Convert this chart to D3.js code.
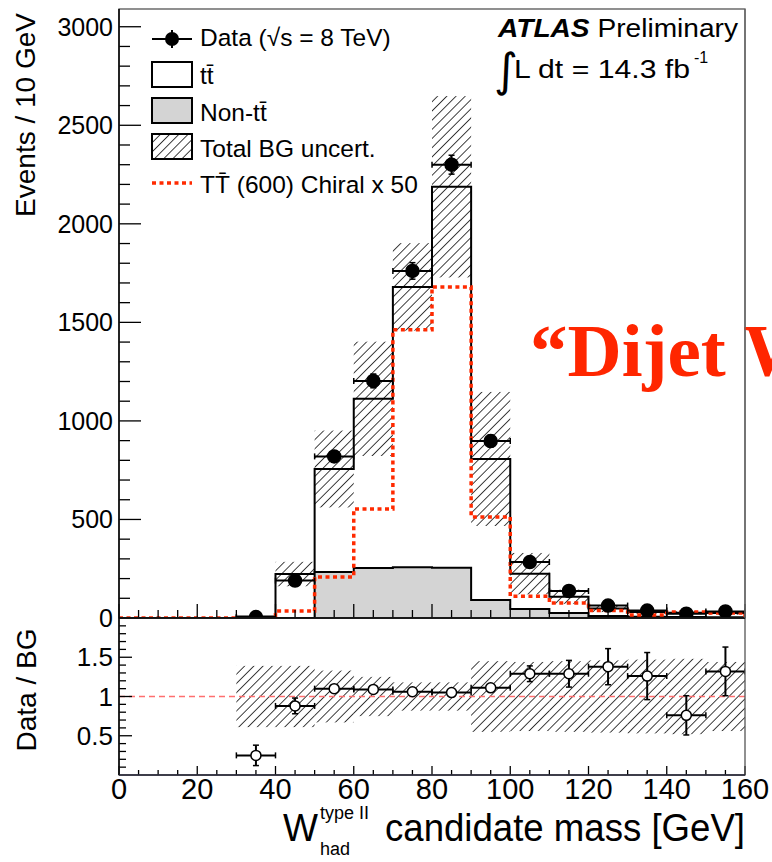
<!DOCTYPE html>
<html>
<head>
<meta charset="utf-8">
<script src="https://cdn.jsdelivr.net/npm/d3@7/dist/d3.min.js"></script>
<style>
  body { margin: 0; background: #fff; }
  svg text { font-family: "Liberation Sans", Arial, Helvetica, sans-serif; fill: #000; }
</style>
</head>
<body>
<div id="chart"></div>
<script>
// bins of 10 GeV
var binLow   = [0, 10, 20, 30, 40, 50, 60, 70, 80, 90, 100, 110, 120, 130, 140, 150];
var totalBG  = [0, 0, 0, 7, 223, 756, 1112, 1680, 2188, 807, 225, 108, 48, 30, 27, 25];
var nonTT    = [0, 0, 0, 0, 0, 233, 254, 258, 255, 91, 46, 25, 10, 6, 5, 4];
var bgUnc    = [0, 0, 0, 3, 62, 195, 290, 222, 460, 340, 105, 36, 18, 10, 8, 8];
var signal   = [0, 0, 0, 0, 35, 208, 553, 1462, 1680, 513, 110, 76, 38, 15, 30, 26];
var ratioBand = [0, 0, 0, 0.39, 0.39, 0.33, 0.25, 0.18, 0.18, 0.45, 0.44, 0.45, 0.46, 0.47, 0.48, 0.44];

// data points
var dataX    = [35, 45, 55, 65, 75, 85, 95, 105, 115, 125, 135, 145, 155];
var dataY    = [5, 190, 820, 1203, 1761, 2300, 898, 284, 137, 63, 38, 22, 33];
var dataErr  = [2, 14, 29, 35, 42, 48, 30, 17, 12, 8, 6, 5, 6];
var ratioY   = [0.25, 0.88, 1.10, 1.09, 1.06, 1.05, 1.11, 1.29, 1.29, 1.38, 1.26, 0.76, 1.32];
var ratioErr = [0.13, 0.10, 0.03, 0.03, 0.03, 0.02, 0.04, 0.10, 0.17, 0.23, 0.30, 0.25, 0.31];

var xTicks = [0, 20, 40, 60, 80, 100, 120, 140, 160];
var yTicks = [0, 500, 1000, 1500, 2000, 2500, 3000];
var rTicks = [0.5, 1, 1.5];

var binW = 10;
var W = 772, H = 862;
var padL = 119, padR = 745, padT = 9, padMid = 618, padB = 775;

var bins = binLow.map(function(lo, i) {
  return { lo: lo, bg: totalBG[i], unc: bgUnc[i], rel: ratioBand[i] };
});

var svg = d3.select("#chart").append("svg").attr("width", W).attr("height", H);

var x = d3.scaleLinear().domain([0, 160]).range([padL, padR]);
var y = d3.scaleLinear().domain([0, 3090]).range([padMid, padT]);
var yr = d3.scaleLinear().domain([0, 2.0]).range([padB, padMid]);

var defs = svg.append("defs");
defs.append("pattern").attr("id", "hatch")
    .attr("patternUnits", "userSpaceOnUse")
    .attr("width", 6.5).attr("height", 6.5)
    .attr("patternTransform", "rotate(45)")
  .append("line")
    .attr("x1", 0).attr("y1", -1).attr("x2", 0).attr("y2", 8)
    .attr("stroke", "#000").attr("stroke-width", 1.5);
defs.append("clipPath").attr("id", "clipMain")
  .append("rect").attr("x", padL).attr("y", padT).attr("width", padR - padL).attr("height", padMid - padT);
defs.append("clipPath").attr("id", "clipRatio")
  .append("rect").attr("x", padL).attr("y", padMid).attr("width", padR - padL).attr("height", padB - padMid);

function stepPath(vals, ys) {
  var p = "M" + x(binLow[0]) + "," + ys(0);
  vals.forEach(function(v, i) {
    p += "V" + ys(v) + "H" + x(binLow[i] + binW);
  });
  return p + "V" + ys(0);
}

// ---------- main panel ----------
var gMain = svg.append("g").attr("clip-path", "url(#clipMain)");

gMain.append("path").attr("d", stepPath(totalBG, y))
    .attr("fill", "#fff").attr("stroke", "#000").attr("stroke-width", 2);
gMain.append("path").attr("d", stepPath(nonTT, y))
    .attr("fill", "#d4d4d4").attr("stroke", "#000").attr("stroke-width", 2);

gMain.selectAll("rect.unc").data(bins.filter(function(b) { return b.unc > 0; }))
  .enter().append("rect")
    .attr("class", "unc")
    .attr("x", function(d) { return x(d.lo); })
    .attr("width", x(binW) - x(0))
    .attr("y", function(d) { return y(d.bg + d.unc); })
    .attr("height", function(d) { return y(d.bg - d.unc) - y(d.bg + d.unc); })
    .attr("fill", "url(#hatch)");

gMain.append("path").attr("d", stepPath(signal, y))
    .attr("fill", "none").attr("stroke", "#ff2a00").attr("stroke-width", 3.5)
    .attr("stroke-dasharray", "4,3.5");

function drawPoints(g, ys, vals, errs, r, filled) {
  var pts = g.selectAll("g.pt").data(dataX).enter().append("g").attr("class", "pt");
  pts.append("line")
      .attr("x1", function(d) { return x(d - binW / 2); })
      .attr("x2", function(d) { return x(d + binW / 2); })
      .attr("y1", function(d, i) { return ys(vals[i]); })
      .attr("y2", function(d, i) { return ys(vals[i]); })
      .attr("stroke", "#000").attr("stroke-width", 2);
  [-1, 1].forEach(function(s) {
    pts.append("line")
        .attr("x1", function(d) { return x(d + s * binW / 2); })
        .attr("x2", function(d) { return x(d + s * binW / 2); })
        .attr("y1", function(d, i) { return ys(vals[i]) - 3; })
        .attr("y2", function(d, i) { return ys(vals[i]) + 3; })
        .attr("stroke", "#000").attr("stroke-width", 1.5);
    pts.append("line")
        .attr("x1", function(d) { return x(d) - 3; })
        .attr("x2", function(d) { return x(d) + 3; })
        .attr("y1", function(d, i) { return ys(vals[i] + s * errs[i]); })
        .attr("y2", function(d, i) { return ys(vals[i] + s * errs[i]); })
        .attr("stroke", "#000").attr("stroke-width", 1.5);
  });
  pts.append("line")
      .attr("x1", function(d) { return x(d); })
      .attr("x2", function(d) { return x(d); })
      .attr("y1", function(d, i) { return ys(vals[i] - errs[i]); })
      .attr("y2", function(d, i) { return ys(vals[i] + errs[i]); })
      .attr("stroke", "#000").attr("stroke-width", 2);
  pts.append("circle")
      .attr("cx", function(d) { return x(d); })
      .attr("cy", function(d, i) { return ys(vals[i]); })
      .attr("r", r)
      .attr("fill", filled ? "#000" : "#fff")
      .attr("stroke", "#000").attr("stroke-width", 1.5);
}
drawPoints(gMain, y, dataY, dataErr, 6.5, true);

// ---------- ratio panel ----------
var gRatio = svg.append("g").attr("clip-path", "url(#clipRatio)");
gRatio.selectAll("rect.band").data(bins.filter(function(b) { return b.rel > 0; }))
  .enter().append("rect")
    .attr("class", "band")
    .attr("x", function(d) { return x(d.lo); })
    .attr("width", x(binW) - x(0))
    .attr("y", function(d) { return yr(1 + d.rel); })
    .attr("height", function(d) { return yr(1 - d.rel) - yr(1 + d.rel); })
    .attr("fill", "url(#hatch)");
gRatio.append("line")
    .attr("x1", x(0)).attr("x2", x(160)).attr("y1", yr(1)).attr("y2", yr(1))
    .attr("stroke", "#ff6f6f").attr("stroke-width", 1.5).attr("stroke-dasharray", "6,4");
drawPoints(gRatio, yr, ratioY, ratioErr, 5, false);

// ---------- axes ----------
function tickLines(g, vals, len, horizontal, pos, scale) {
  vals.forEach(function(v) {
    var p = scale(v);
    if (horizontal) g.append("line").attr("x1", p).attr("x2", p).attr("y1", pos).attr("y2", pos - len);
    else g.append("line").attr("x1", pos).attr("x2", pos + len).attr("y1", p).attr("y2", p);
  });
}
var gAx = svg.append("g").attr("stroke", "#000").attr("stroke-width", 1.3);

var minorY = d3.range(0, 3001, 100).filter(function(v) { return v % 500; });
var minorX = d3.range(0, 161, 5).filter(function(v) { return v % 20; });
var minorR = d3.range(1, 20).filter(function(v) { return v % 5; }).map(function(v) { return v / 10; });

tickLines(gAx, minorY, 11, false, padL, y);
tickLines(gAx, yTicks, 22, false, padL, y);
tickLines(gAx, minorX, 8, true, padMid, x);
tickLines(gAx, xTicks, 14, true, padMid, x);
tickLines(gAx, minorR, 7, false, padL, yr);
tickLines(gAx, rTicks, 13, false, padL, yr);
tickLines(gAx, minorX, 5, true, padB, x);
tickLines(gAx, xTicks, 9, true, padB, x);

// frames
svg.append("rect").attr("x", padL).attr("y", padT).attr("width", padR - padL).attr("height", padMid - padT)
    .attr("fill", "none").attr("stroke", "#555").attr("stroke-width", 1.3);
svg.append("rect").attr("x", padL).attr("y", padMid).attr("width", padR - padL).attr("height", padB - padMid)
    .attr("fill", "none").attr("stroke", "#555").attr("stroke-width", 1.3);
svg.append("line").attr("x1", padL).attr("x2", padL).attr("y1", padT).attr("y2", padB)
    .attr("stroke", "#000").attr("stroke-width", 1.5);
svg.append("line").attr("x1", padL).attr("x2", padR).attr("y1", padMid).attr("y2", padMid)
    .attr("stroke", "#000").attr("stroke-width", 1.5);
svg.append("line").attr("x1", padL).attr("x2", padR).attr("y1", padB).attr("y2", padB)
    .attr("stroke", "#223").attr("stroke-width", 1.5);

// tick labels
svg.selectAll("text.yl").data(yTicks).enter().append("text")
    .attr("class", "yl")
    .attr("x", padL - 6).attr("y", function(d) { return y(d) + 9; })
    .attr("text-anchor", "end").attr("font-size", 25).text(function(d) { return d; });
svg.selectAll("text.rl").data(rTicks).enter().append("text")
    .attr("class", "rl")
    .attr("x", padL - 6).attr("y", function(d) { return yr(d) + 9; })
    .attr("text-anchor", "end").attr("font-size", 26).text(function(d) { return d; });
svg.selectAll("text.xl").data(xTicks).enter().append("text")
    .attr("class", "xl")
    .attr("x", function(d) { return x(d); }).attr("y", 799)
    .attr("text-anchor", "middle").attr("font-size", 29).text(function(d) { return d; });

// axis titles
svg.append("text").attr("transform", "translate(35,13) rotate(-90)")
    .attr("text-anchor", "end").attr("font-size", 28).text("Events / 10 GeV");
svg.append("text").attr("transform", "translate(36,690) rotate(-90)")
    .attr("text-anchor", "middle").attr("font-size", 28).text("Data / BG");

svg.append("text").attr("x", 283).attr("y", 841).attr("font-size", 38)
    .attr("textLength", 35).attr("lengthAdjust", "spacingAndGlyphs").text("W");
svg.append("text").attr("x", 320).attr("y", 819).attr("font-size", 18).text("type II");
svg.append("text").attr("x", 320).attr("y", 855).attr("font-size", 18).text("had");
svg.append("text").attr("x", 745).attr("y", 841).attr("text-anchor", "end")
    .attr("font-size", 38).attr("textLength", 360).attr("lengthAdjust", "spacingAndGlyphs")
    .text("candidate mass [GeV]");

// ---------- legend ----------
var lg = svg.append("g");
lg.append("line").attr("x1", 152).attr("x2", 192).attr("y1", 39).attr("y2", 39)
    .attr("stroke", "#000").attr("stroke-width", 2);
lg.append("line").attr("x1", 172).attr("x2", 172).attr("y1", 30).attr("y2", 48)
    .attr("stroke", "#000").attr("stroke-width", 2);
lg.append("circle").attr("cx", 172).attr("cy", 39).attr("r", 7).attr("fill", "#000");
lg.append("rect").attr("x", 152).attr("y", 62).attr("width", 40).attr("height", 25)
    .attr("fill", "#fff").attr("stroke", "#000").attr("stroke-width", 2);
lg.append("rect").attr("x", 152).attr("y", 98).attr("width", 40).attr("height", 25)
    .attr("fill", "#d4d4d4").attr("stroke", "#000").attr("stroke-width", 2);
lg.append("rect").attr("x", 152).attr("y", 134).attr("width", 40).attr("height", 25)
    .attr("fill", "url(#hatch)").attr("stroke", "#000").attr("stroke-width", 2);
lg.append("line").attr("x1", 152).attr("x2", 192).attr("y1", 183).attr("y2", 183)
    .attr("stroke", "#ff2a00").attr("stroke-width", 3.5).attr("stroke-dasharray", "4,3.5");

var legendText = ["Data (\u221As = 8 TeV)", "tt\u0304", "Non-tt\u0304", "Total BG uncert.", "TT\u0304 (600) Chiral x 50"];
var legendY = [46, 84, 121, 157, 193];
lg.selectAll("text").data(legendText).enter().append("text")
    .attr("x", 200).attr("y", function(d, i) { return legendY[i]; })
    .attr("font-size", 24.5).text(function(d) { return d; });

// ATLAS label
var at = svg.append("text").attr("x", 498).attr("y", 37).attr("font-size", 26)
    .attr("textLength", 240).attr("lengthAdjust", "spacingAndGlyphs");
at.append("tspan").attr("font-weight", "bold").attr("font-style", "italic").text("ATLAS");
at.append("tspan").text(" Preliminary");
svg.append("text").attr("x", 494).attr("y", 86).attr("font-size", 46)
    .style("font-family", "'DejaVu Sans', sans-serif").text("\u222B");
svg.append("text").attr("x", 514).attr("y", 78).attr("font-size", 26)
    .attr("textLength", 176).attr("lengthAdjust", "spacingAndGlyphs").text("L dt = 14.3 fb");
svg.append("text").attr("x", 694).attr("y", 63).attr("font-size", 16).text("-1");

// slide overlay text
svg.append("text").attr("x", 530).attr("y", 376)
    .style("font-family", "'Liberation Serif', 'Times New Roman', serif")
    .style("font-weight", "bold").attr("font-size", 75)
    .style("fill", "#ff2600").text("\u201CDijet W");
// right frame edge over overlay text
svg.append("line").attr("x1", padR).attr("x2", padR).attr("y1", padT).attr("y2", padMid)
    .attr("stroke", "#666").attr("stroke-width", 1.3);
</script>
</body>
</html>
